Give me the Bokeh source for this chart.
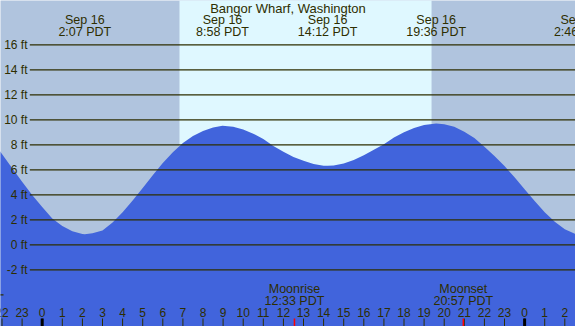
from bokeh.plotting import figure
from bokeh.models import Range1d
from bokeh.embed import file_html
from bokeh.resources import INLINE
from bokeh.core.properties import value

# ---------------- data ----------------
station = "Bangor Wharf, Washington"

# hours relative to Sep 16 00:00 PDT, tide height in ft
tide_hours = [-2.1, -1.5, -1.0, -0.5, 0.0, 0.5, 1.0, 1.5, 2.0, 2.12, 2.5, 3.0, 3.5,
              4.0, 4.5, 5.0, 5.5, 6.0, 6.5, 7.0, 7.5, 8.0, 8.5, 8.97, 9.5, 10.0,
              10.5, 11.0, 11.5, 12.0, 12.5, 13.0, 13.5, 14.0, 14.2, 14.5, 15.0,
              15.5, 16.0, 16.5, 17.0, 17.5, 18.0, 18.5, 19.0, 19.6, 20.0, 20.5,
              21.0, 21.5, 22.0, 22.5, 23.0, 23.5, 24.0, 24.5, 25.0, 25.5, 26.0,
              26.5, 27.0]
tide_ft = [7.48, 6.15, 5.05, 3.98, 3.02, 2.1, 1.5, 1.08, 0.87, 0.85, 0.93, 1.15, 1.78,
           2.6, 3.55, 4.55, 5.57, 6.55, 7.4, 8.15, 8.7, 9.1, 9.38, 9.52, 9.44, 9.22,
           8.89, 8.47, 7.9, 7.45, 7.02, 6.72, 6.46, 6.33, 6.32, 6.35, 6.5,
           6.78, 7.16, 7.61, 8.05, 8.58, 9.0, 9.35, 9.59, 9.7, 9.64, 9.45,
           9.05, 8.55, 7.85, 7.1, 6.3, 5.4, 4.45, 3.5, 2.6, 1.85, 1.25,
           0.88, 0.75]

extreme_hours = [2.12, 8.97, 14.2, 19.6, 26.77]
extreme_dates = ["Sep 16", "Sep 16", "Sep 16", "Sep 16", "Sep 17"]
extreme_times = ["2:07 PDT", "8:58 PDT", "14:12 PDT", "19:36 PDT", "2:46 PDT"]

sunrise_hour = 6.83
sunset_hour = 19.37

moon_hours = [12.55, 20.95]
moon_events = ["Moonrise", "Moonset"]
moon_times = ["12:33 PDT", "20:57 PDT"]

grid_ft = [-2, 0, 2, 4, 6, 8, 10, 12, 14, 16]
grid_labels = ["-2 ft", "0 ft", "2 ft", "4 ft", "6 ft", "8 ft", "10 ft", "12 ft", "14 ft", "16 ft"]

hour_ticks = [-2, -1, 0, 1, 2, 3, 4, 5, 6, 7, 8, 9, 10, 11, 12, 13, 14, 15, 16, 17,
              18, 19, 20, 21, 22, 23, 24, 25, 26]
hour_labels = ["22", "23", "0", "1", "2", "3", "4", "5", "6", "7", "8", "9", "10",
               "11", "12", "13", "14", "15", "16", "17", "18", "19", "20", "21",
               "22", "23", "0", "1", "2"]
midnight_hours = [0, 24]

# ---------------- layout helpers ----------------
W, H = 575, 326
X0, X1 = -2.075, 26.532        # hours at left / right edge
Y_TOP, Y_BOT = 19.544, -6.536  # ft at top / bottom edge
PX_PER_FT = 12.5
PX_PER_H = 20.1


def py(px):
    """screen pixel row -> ft"""
    return Y_TOP - px / PX_PER_FT


def px_h(px):
    """screen pixel column -> hours"""
    return X0 + px / PX_PER_H


NIGHT = "#B0C4DE"
DAY = "#DFF8FF"
WATER = "#4164DC"
INK = "#2E2E00"
FONT = value("Liberation Sans")

p = figure(width=W, height=H, output_backend="svg", toolbar_location=None,
           x_range=Range1d(X0, X1), y_range=Range1d(Y_BOT, Y_TOP),
           x_axis_location=None, y_axis_location=None,
           min_border=0, min_border_left=0, min_border_right=0,
           min_border_top=0, min_border_bottom=0)
p.outline_line_color = None
p.background_fill_color = NIGHT
p.border_fill_color = NIGHT
p.xgrid.visible = False
p.ygrid.visible = False

# daylight band
p.quad(left=[sunrise_hour], right=[sunset_hour], bottom=[Y_BOT - 5], top=[Y_TOP + 5],
       fill_color=DAY, line_color=None)

# tide
p.varea(x=tide_hours, y1=[Y_BOT - 5] * len(tide_hours), y2=tide_ft,
        fill_color=WATER)

# grid lines
gx0 = px_h(29.3)
p.segment(x0=[gx0] * len(grid_ft), x1=[X1 + 1] * len(grid_ft), y0=grid_ft, y1=grid_ft,
          line_color=INK, line_width=1.2)
p.segment(x0=[X0 - 1], x1=[px_h(3)], y0=[-4], y1=[-4], line_color=INK, line_width=1.2)
p.text(x=[px_h(27)] * len(grid_ft), y=grid_ft, text=grid_labels, text_align="right",
       text_baseline="middle", text_font=FONT, text_font_size="12px", text_color=INK)

# title
p.text(x=[px_h(W / 2)], y=[py(7.5)], text=[station], text_align="center",
       text_baseline="middle", text_font=FONT, text_font_size="13px", text_color=INK)

# extreme labels
p.text(x=extreme_hours, y=[py(19.5)] * len(extreme_hours), text=extreme_dates,
       text_align="center", text_baseline="middle", text_font=FONT,
       text_font_size="12.5px", text_color=INK)
p.text(x=extreme_hours, y=[py(31.5)] * len(extreme_hours), text=extreme_times,
       text_align="center", text_baseline="middle", text_font=FONT,
       text_font_size="12.5px", text_color=INK)

# moon labels
p.text(x=moon_hours, y=[py(288)] * 2, text=moon_events, text_align="center",
       text_baseline="middle", text_font=FONT, text_font_size="12.5px", text_color=INK)
p.text(x=moon_hours, y=[py(300)] * 2, text=moon_times, text_align="center",
       text_baseline="middle", text_font=FONT, text_font_size="12.5px", text_color=INK)

# hour labels and ticks
p.text(x=hour_ticks, y=[py(311.5)] * len(hour_ticks), text=hour_labels, text_align="center",
       text_baseline="middle", text_font=FONT, text_font_size="12px", text_color=INK)
p.segment(x0=hour_ticks, x1=hour_ticks, y0=[py(318)] * len(hour_ticks),
          y1=[Y_BOT - 1] * len(hour_ticks), line_color=INK, line_width=1)
p.segment(x0=midnight_hours, x1=midnight_hours, y0=[py(318)] * 2, y1=[Y_BOT - 1] * 2,
          line_color="black", line_width=3)
p.segment(x0=moon_hours, x1=moon_hours, y0=[py(318)] * 2, y1=[Y_BOT - 1] * 2,
          line_color="red", line_width=1.5)

open("out.html", "w").write(file_html(p, INLINE))
